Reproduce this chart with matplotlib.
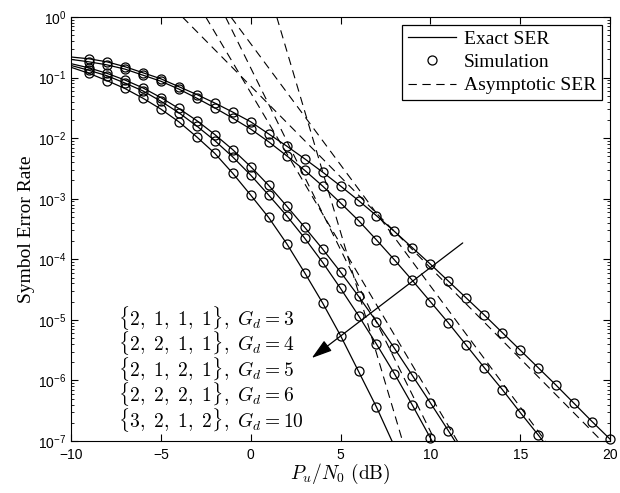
import numpy as np
import matplotlib.pyplot as plt

plt.rcParams['font.family'] = 'Liberation Sans'
plt.rcParams['mathtext.fontset'] = 'custom'
plt.rcParams['mathtext.rm'] = 'Liberation Sans'
plt.rcParams['mathtext.it'] = 'Liberation Sans:italic'
plt.rcParams['mathtext.bf'] = 'Liberation Sans:bold'

# log10(SER), at Pu/N0 = -10, -9, ... dB (integer steps)
log_ser_gd3 = [-0.66, -0.69, -0.74, -0.82, -0.92, -1.02, -1.15, -1.28, -1.42, -1.57,
               -1.73, -1.93, -2.13, -2.34, -2.56, -2.79, -3.03, -3.28, -3.54, -3.81,
               -4.08, -4.36, -4.64, -4.92, -5.21, -5.50, -5.79, -6.08, -6.38, -6.68, -6.97]
log_ser_gd4 = [-0.70, -0.74, -0.79, -0.86, -0.96, -1.06, -1.19, -1.34, -1.50, -1.67,
               -1.85, -2.06, -2.29, -2.53, -2.79, -3.07, -3.36, -3.68, -4.01, -4.35,
               -4.70, -5.05, -5.42, -5.79, -6.15, -6.53, -6.90, -7.28]
log_ser_gd5 = [-0.77, -0.84, -0.93, -1.04, -1.17, -1.33, -1.51, -1.71, -1.94, -2.19,
               -2.47, -2.78, -3.12, -3.47, -3.83, -4.21, -4.61, -5.03, -5.47, -5.92,
               -6.37, -6.83, -7.30]
log_ser_gd6 = [-0.80, -0.88, -0.97, -1.09, -1.22, -1.39, -1.58, -1.80, -2.04, -2.31,
               -2.61, -2.94, -3.28, -3.65, -4.05, -4.48, -4.93, -5.40, -5.89, -6.41,
               -6.95, -7.50]
log_ser_gd10 = [-0.83, -0.93, -1.05, -1.18, -1.34, -1.52, -1.73, -1.98, -2.25, -2.58,
                -2.94, -3.31, -3.74, -4.22, -4.72, -5.26, -5.85, -6.44, -7.09]

curves = [log_ser_gd3, log_ser_gd4, log_ser_gd5, log_ser_gd6, log_ser_gd10]
gd = [3, 4, 5, 6, 10]
patterns = ['2,\\ 1,\\ 1,\\ 1', '2,\\ 2,\\ 1,\\ 1', '2,\\ 1,\\ 2,\\ 1',
            '2,\\ 2,\\ 2,\\ 1', '3,\\ 2,\\ 1,\\ 2']
# Pu/N0 (dB) where each asymptote line reaches SER = 1
asym_zero_db = [-3.8, -1.1, -2.5, -1.4, 1.45]

fig = plt.figure(figsize=(6.2, 4.93), dpi=100)
ax = fig.add_axes([0.1145, 0.1055, 0.8695, 0.86])

for i, c in enumerate(curves):
    snr = np.arange(-10, -10 + len(c))
    ser = 10.0 ** np.array(c)
    ax.semilogy(snr, ser, 'k-', lw=0.9, label='Exact SER' if i == 0 else None)
    m = (snr >= -9) & (ser >= 0.95e-7)
    ax.semilogy(snr[m], ser[m], 'ko', mfc='none', ms=6.5, mew=0.9, ls='none',
                clip_on=False, label='Simulation' if i == 0 else None)

for i, (g, x0) in enumerate(zip(gd, asym_zero_db)):
    s = np.array([x0, x0 + 75.0 / g])
    ax.semilogy(s, 10.0 ** (-g / 10.0 * (s - x0)), 'k', lw=0.8, dashes=(7.5, 5),
                label='Asymptotic SER' if i == 0 else None)

# labels for the five configurations
for i, (p, g) in enumerate(zip(patterns, gd)):
    ax.text(-7.4, 10 ** (-4.97 - 0.42 * i), r'$\{%s\},\ G_d = %d$' % (p, g),
            fontsize=14, math_fontfamily='cm', ha='left', va='center')

ax.annotate('', xy=(3.4, 10 ** -5.63), xytext=(11.8, 10 ** -3.73),
            arrowprops=dict(arrowstyle='-|>,head_length=0.9,head_width=0.28',
                            color='k', lw=0.9, mutation_scale=14, shrinkA=0, shrinkB=0))

ax.set_xlim(-10, 20)
ax.set_ylim(1e-7, 1)
ax.set_xticks([-10, -5, 0, 5, 10, 15, 20])
ax.tick_params(which='both', direction='in', top=True, right=True, labelsize=10)
ax.tick_params(which='major', length=5)
ax.tick_params(which='minor', length=2.5)
ax.tick_params(axis='x', pad=5)
ax.set_xlabel(r'$P_u/N_0\ (\mathrm{dB})$', fontsize=14, math_fontfamily='cm', labelpad=0)
ax.set_ylabel('Symbol Error Rate', fontsize=14, family='Liberation Serif', labelpad=2)

leg = ax.legend(loc='upper right', prop={'family': 'Liberation Serif', 'size': 14},
                frameon=True, fancybox=False, edgecolor='k', framealpha=1,
                handlelength=2.5, labelspacing=0.28, borderaxespad=0.4, borderpad=0.3,
                handletextpad=0.4)
leg.get_frame().set_linewidth(0.9)

fig.savefig('out.png', dpi=100)
